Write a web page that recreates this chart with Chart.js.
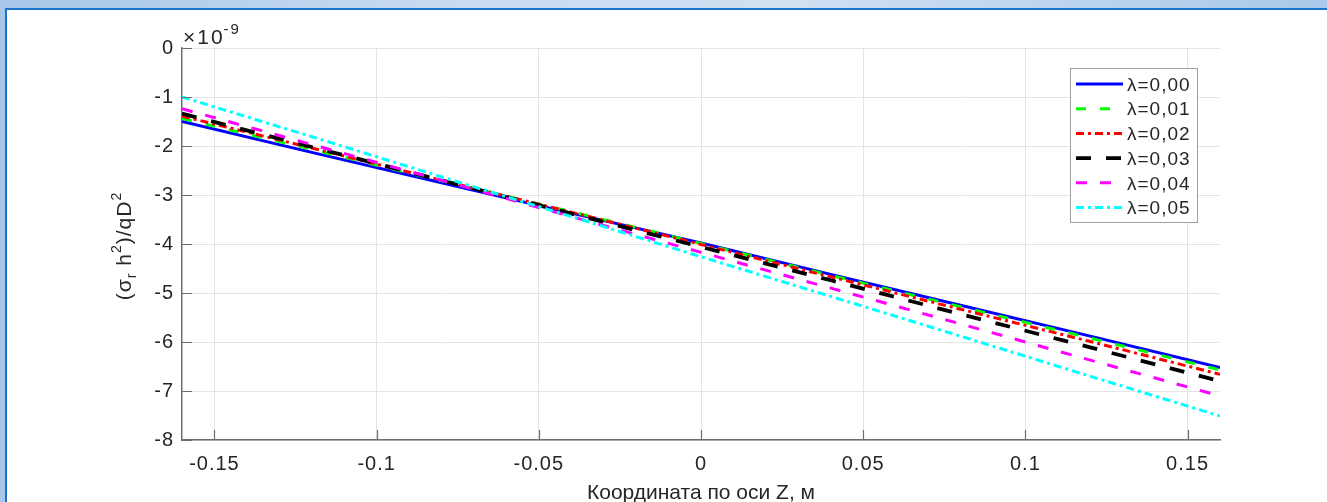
<!DOCTYPE html>
<html>
<head>
<meta charset="utf-8">
<script src="https://cdn.jsdelivr.net/npm/chart.js@4.4.1/dist/chart.umd.min.js"></script>
<style>
  html, body { margin:0; padding:0; }
  body { width:1327px; height:502px; overflow:hidden; position:relative;
         background: linear-gradient(to right, #a6c7e8 0%, #c9dcf1 35%, #cfe0f2 60%, #a9c9ea 100%); }
  #frame { position:absolute; left:5px; top:8px; right:0; bottom:0; background:#fff;
           border-left:2px solid #1c72cc; border-top:2px solid #1c72cc; }
  #c { position:absolute; left:0; top:0; }
</style>
</head>
<body>
<div id="frame"></div>
<canvas id="c" width="1327" height="502"></canvas>
<script>
// ---- data (y values in units of 1e-9) ----
const xValues = [-0.16, -0.12, -0.08, -0.04, 0, 0.04, 0.08, 0.12, 0.16];
const lambda000 = [-1.50, -2.13, -2.75, -3.37, -3.98, -4.62, -5.25, -5.88, -6.52];
const lambda001 = [-1.44, -2.07, -2.71, -3.34, -3.99, -4.64, -5.28, -5.92, -6.57];
const lambda002 = [-1.39, -2.04, -2.70, -3.35, -4.01, -4.67, -5.33, -5.99, -6.66];
const lambda003 = [-1.34, -2.02, -2.70, -3.38, -4.06, -4.74, -5.43, -6.11, -6.80];
const lambda004 = [-1.24, -1.97, -2.70, -3.44, -4.17, -4.90, -5.63, -6.37, -7.10];
const lambda005 = [-1.00, -1.81, -2.63, -3.44, -4.26, -5.07, -5.88, -6.70, -7.51];
const seriesLabels = ['λ=0,00', 'λ=0,01', 'λ=0,02', 'λ=0,03', 'λ=0,04', 'λ=0,05'];
const xTickValues = [-0.15, -0.1, -0.05, 0, 0.05, 0.1, 0.15];
const xTickLabels = ['-0.15', '-0.1', '-0.05', '0', '0.05', '0.1', '0.15'];
const yTickValues = [-8, -7, -6, -5, -4, -3, -2, -1, 0];
const yTickLabels = ['-8', '-7', '-6', '-5', '-4', '-3', '-2', '-1', '0'];
const xTitle = 'Координата по оси Z, м';
const yExponent = '-9';

// ---- styles ----
const seriesValues = [lambda000, lambda001, lambda002, lambda003, lambda004, lambda005];
const colors = ['#0000ff', '#00ff00', '#ff0000', '#000000', '#ff00ff', '#00ffff'];
const widths = [3, 3, 3, 3.8, 3, 3];
const dashes = [[], [10, 14], [8, 4, 3, 4], [15, 15], [11, 13], [8, 4, 3, 4]];

const FONT = "Arial, 'Liberation Sans', sans-serif";
const TXT = '#262626';
const AXIS = '#6e6e6e';

const datasets = seriesValues.map((vals, i) => ({
  label: seriesLabels[i],
  data: vals.map((v, k) => ({ x: xValues[k], y: v })),
  borderColor: colors[i],
  backgroundColor: colors[i],
  borderWidth: widths[i],
  borderDash: dashes[i],
  pointRadius: 0,
  tension: 0,
  fill: false,
  order: seriesValues.length - i
}));

const spacing = {
  id: 'spacing',
  beforeUpdate(chart) { chart.ctx.letterSpacing = '1px'; },
  beforeDraw(chart) { chart.ctx.letterSpacing = '1px'; }
};

const overlay = {
  id: 'overlay',
  afterDraw(chart) {
    const ctx = chart.ctx;
    const ca = chart.chartArea;
    const xs = chart.scales.x, ys = chart.scales.y;
    ctx.save();
    // inward tick marks
    ctx.strokeStyle = AXIS; ctx.lineWidth = 1.2;
    ctx.beginPath();
    xTickValues.forEach(v => {
      const px = Math.round(xs.getPixelForValue(v)) + 0.5;
      ctx.moveTo(px, ca.bottom); ctx.lineTo(px, ca.bottom - 10);
    });
    yTickValues.forEach(v => {
      const py = Math.round(ys.getPixelForValue(v)) + 0.5;
      ctx.moveTo(ca.left, py); ctx.lineTo(ca.left + 10, py);
    });
    ctx.stroke();

    // exponent label
    ctx.fillStyle = TXT;
    ctx.textBaseline = 'alphabetic';
    ctx.textAlign = 'left';
    ctx.letterSpacing = '2px';
    ctx.font = '21px ' + FONT;
    const base = '×10';
    ctx.fillText(base, ca.left + 1, 44);
    const bw = ctx.measureText(base).width;
    ctx.font = '15px ' + FONT;
    ctx.fillText(yExponent, ca.left + bw, 34);

    // x title
    ctx.letterSpacing = '0px';
    ctx.font = '21px ' + FONT;
    ctx.textAlign = 'center';
    ctx.fillText(xTitle, (ca.left + ca.right) / 2, 499);

    // y title with sub/superscripts
    ctx.letterSpacing = '1px';
    const parts = [
      { t: '(σ', s: 21, dy: 0 },
      { t: 'r', s: 14, dy: 5 },
      { t: ' h', s: 21, dy: 0 },
      { t: '2', s: 14, dy: -10 },
      { t: ')/qD', s: 21, dy: 0 },
      { t: '2', s: 14, dy: -10 }
    ];
    let total = 0;
    parts.forEach(p => { ctx.font = p.s + 'px ' + FONT; p.w = ctx.measureText(p.t).width; total += p.w; });
    ctx.translate(131, 246);
    ctx.rotate(-Math.PI / 2);
    ctx.textAlign = 'left';
    let cx = -total / 2;
    parts.forEach(p => { ctx.font = p.s + 'px ' + FONT; ctx.fillText(p.t, cx, p.dy); cx += p.w; });
    ctx.setTransform(1, 0, 0, 1, 0, 0);

    // legend
    const lx = 1070.5, ly = 68.5, lw = 127, lh = 154;
    ctx.fillStyle = '#ffffff';
    ctx.fillRect(lx, ly, lw, lh);
    ctx.strokeStyle = '#a0a0a0'; ctx.lineWidth = 1; ctx.setLineDash([]);
    ctx.strokeRect(lx, ly, lw, lh);
    ctx.font = '19px ' + FONT;
    ctx.letterSpacing = '1px';
    ctx.textAlign = 'left';
    ctx.textBaseline = 'middle';
    chart.data.datasets.forEach((ds, i) => {
      const y = 84 + i * 24.7;
      ctx.strokeStyle = ds.borderColor;
      ctx.lineWidth = ds.borderWidth;
      ctx.setLineDash(ds.borderDash);
      ctx.beginPath(); ctx.moveTo(1076, y); ctx.lineTo(1123, y); ctx.stroke();
      ctx.setLineDash([]);
      ctx.fillStyle = TXT;
      ctx.fillText(ds.label, 1127, y + 1.5);
    });
    ctx.restore();
  }
};

new Chart(document.getElementById('c'), {
  type: 'line',
  data: { datasets },
  options: {
    responsive: false,
    animation: false,
    devicePixelRatio: 1,
    layout: { padding: { left: 0, top: 48, right: 107, bottom: 0 } },
    plugins: { legend: { display: false }, tooltip: { enabled: false }, title: { display: false } },
    scales: {
      x: {
        type: 'linear', min: -0.16, max: 0.16,
        afterBuildTicks: s => { s.ticks = xTickValues.map(v => ({ value: v })); },
        afterFit: s => { s.height = 62; },
        ticks: {
          autoSkip: false, maxRotation: 0, padding: 12,
          color: TXT, font: { family: FONT, size: 20 },
          callback: (v) => { const i = xTickValues.findIndex(t => Math.abs(t - v) < 1e-9); return i >= 0 ? xTickLabels[i] : ''; }
        },
        grid: { color: '#e4e4e4', lineWidth: 1, drawTicks: false, tickLength: 0 },
        border: { display: true, color: AXIS, width: 1.5 }
      },
      y: {
        type: 'linear', min: -8, max: 0,
        afterBuildTicks: s => { s.ticks = yTickValues.map(v => ({ value: v })); },
        afterFit: s => { s.width = 182; },
        ticks: {
          autoSkip: false, padding: 8,
          color: TXT, font: { family: FONT, size: 20 },
          callback: (v) => { const i = yTickValues.findIndex(t => Math.abs(t - v) < 1e-9); return i >= 0 ? yTickLabels[i] : ''; }
        },
        grid: { color: '#e4e4e4', lineWidth: 1, drawTicks: false, tickLength: 0 },
        border: { display: true, color: AXIS, width: 1.5 }
      }
    }
  },
  plugins: [spacing, overlay]
});
</script>
</body>
</html>
